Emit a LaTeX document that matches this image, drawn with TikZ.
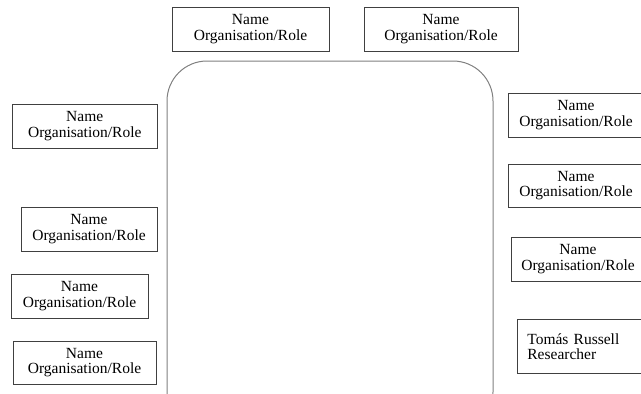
\documentclass[tikz,border=0pt]{standalone}
\usepackage{fontspec}
\setmainfont{Liberation Serif}
\begin{document}
\begin{tikzpicture}[x=1pt,y=-1pt,
  person/.style={draw=black!75, line width=0.8pt, inner sep=0pt, align=center,
    font=\fontsize{15.5pt}{15.3pt}\selectfont, minimum height=44pt},
  panel/.style={draw=black!50, line width=1pt, rounded corners=40pt}]
\useasboundingbox (0,0) rectangle (641,394);
\clip (0,0) rectangle (641,394);
% central panel, running past the lower edge
\draw[panel] (167,61) rectangle (493,432);
% contributors above the panel
\node[person, minimum width=157pt] (t1) at (250.5,29) {Name\\Organisation/Role};
\node[person, minimum width=154pt] (t2) at (441,29) {Name\\Organisation/Role};
% contributors on the left
\node[person, minimum width=144.5pt] (l1) at (84.75,126) {Name\\Organisation/Role};
\node[person, minimum width=136pt] (l2) at (89,229) {Name\\Organisation/Role};
\node[person, minimum width=137pt] (l3) at (79.5,296) {Name\\Organisation/Role};
\node[person, minimum width=143pt, minimum height=43pt] (l4) at (84.5,362.5) {Name\\Organisation/Role};
% contributors on the right
\node[person, minimum width=136pt] (r1) at (576,115) {Name\\Organisation/Role};
\node[person, minimum width=136pt, minimum height=43pt] (r2) at (576,185.5) {Name\\Organisation/Role};
\node[person, minimum width=134pt] (r3) at (578,259) {Name\\Organisation/Role};
\node[person, anchor=north west, align=left, text width=120pt, inner xsep=10pt,
  minimum height=54pt] (r4) at (517,319) {Tomás Russell\\Researcher};
\end{tikzpicture}
\end{document}
